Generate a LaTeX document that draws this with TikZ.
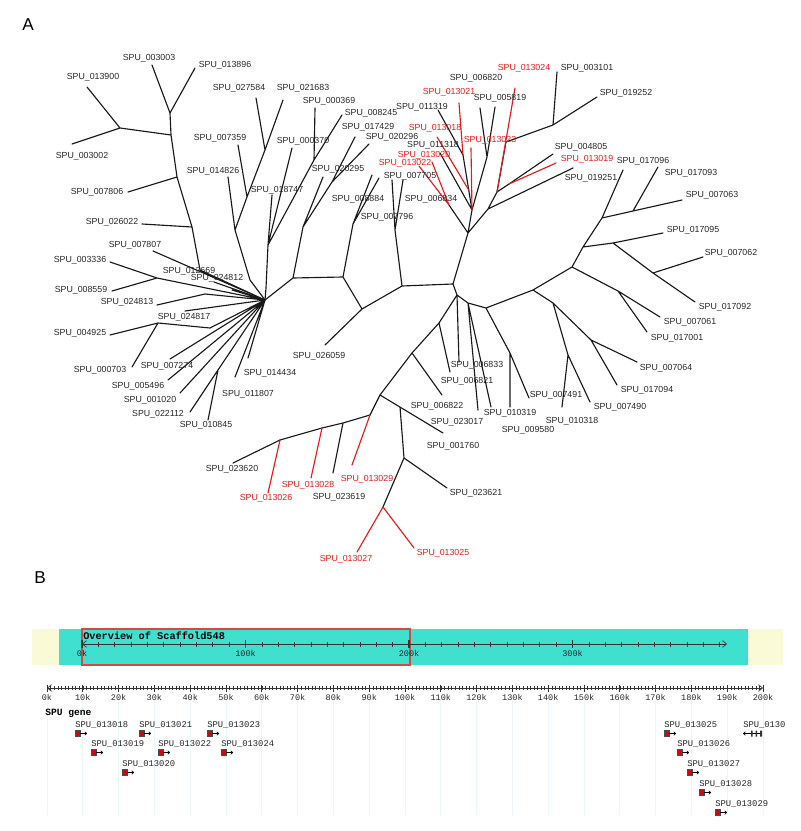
\documentclass[tikz,border=0pt]{standalone}
\usepackage{fontspec}
\setmainfont{Liberation Sans}
\newfontfamily\gbmono{Liberation Mono}
\usetikzlibrary{arrows.meta}

\definecolor{spu_red}{RGB}{232,24,24}
\definecolor{scaf_cyan}{RGB}{64,224,208}
\definecolor{scaf_cream}{RGB}{250,250,214}
\definecolor{view_red}{RGB}{214,72,72}
\definecolor{gene_red}{RGB}{205,10,10}
\definecolor{grid_cyan}{RGB}{232,248,250}

\begin{document}
\begin{tikzpicture}[
    x=0.75pt, y=-0.75pt,
    branch/.style={line width=0.85pt, black!90, line cap=round, line join=round},
    redbranch/.style={branch, draw=spu_red},
    leaf/.style={font=\fontsize{6.6}{7}\selectfont, text=black!85, inner sep=0pt},
    redleaf/.style={leaf, text=spu_red},
    panel/.style={font=\fontsize{12.9}{14}\selectfont, inner sep=0pt},
    ruler/.style={line width=0.5pt, black!80},
    barbs/.style={{Straight Barb[length=3pt,width=5pt]}-{Straight Barb[length=3pt,width=5pt]}},
    ticklabel/.style={font=\gbmono\fontsize{6.4}{7}\selectfont, text=black!85, inner sep=0pt},
    genelabel/.style={font=\gbmono\fontsize{6.6}{7}\selectfont, text=black!85, inner sep=0pt, anchor=west},
    tracktitle/.style={font=\gbmono\bfseries\fontsize{7.2}{8}\selectfont, inner sep=0pt, anchor=west},
    genebox/.style={fill=gene_red, draw=black!70, line width=0.3pt, inner sep=0pt,
                    minimum width=3.6pt, minimum height=4.5pt}
]
\useasboundingbox (0,0) rectangle (800,831);

    % Panel letters
    \node[panel] (pA) at (28,25) {A};
    \node[panel] (pB) at (40,578) {B};

    % Internal nodes of the tree
    \foreach \n/\x/\y in {HL/265/300, HR/453/284,
        na/170/113, nb/171/135, nc/120/128, nd/177/177, ne/192/227, nst/200/270,
        nf/157/278, ng/205/294, nh/158/323, ni/210/328, nj/218/370,
        p0/250/280, p1/235/230, p2/247/197, p3/265/150,
        q0/266/288, q1/268/245, q2/314/160,
        s1/293/278, r1/303/227, r2/332/182, s2/343/277, t1/353/224,
        w1/362/309, v1/402/286, u1/395/230,
        x1/468/233, ya/449/205, x2/472/210, z1/463/155, z3/468.7/190, n65/487/157,
        m1/488/209, m2/497/192, m5/509/184, m3/506/142, m4/553/125,
        k1/457/295, k2/468/303, k3/486/308, k4/533/290, k5/572/267, k6/583/247,
        k7/602/218, k8/633/211, k9/613/243, k10/653/273, k11/618/291,
        k12/553/303, k13/568/355, k14/591/340, k15/510/353,
        l1/439/323, l2/412/353, l3/380/395, l4/400/407, l5/404/458, l6/383/507,
        l7/370/415, l8/343/423, l9/322/428, l10/280/440}
        \coordinate (\n) at (\x,\y);

    % Tips of the tree
    \foreach \n/\x/\y in {003003/152/65, 013896/195/68, 013900/87/87, 003002/72/144,
        007806/128/192, 026022/142/224, 007807/153/251, 003336/110/262, 008559/112/291,
        012669/214/282, 024812/232/290, 024813/157/305, 024817/185/311, 004925/110/335,
        000703/132/367, 007274/170/359, 005496/168/380, 001020/180/393, 022112/190/412,
        010845/208/420, 011807/235/377, 014434/248/358,
        014826/228/177, 007359/238/145, 027584/256/98, 021683/283/100,
        000370/292/148, 018747/272/195, 000369/315/108, 008245/342/115,
        020295/323/177, 017429/355/137, 020296/369/144,
        008884/372/175, 007796/379/178, 007705/403/180, 006834/392/180, 026059/325/345,
        013022/419/166, 013020/432/162, 011319/438/110, 013021/459/103, 013018/437/137,
        011318/440/153, 013023/471/148, 006820/480/108, 005819/495/107,
        013024/515/88, 003101/557/72, 019252/597/97, 004805/553/154, 013019/556/163,
        019251/573/168,
        017096/623/170, 017093/658/167, 007063/682/200, 017095/663/233, 007062/703/257,
        017092/695/302, 007061/660/317, 017001/647/332, 007064/637/362, 017094/617/385,
        007490/590/402, 010318/562/407, 007491/529/398, 009580/510/407, 010319/491/407,
        023017/478/410, 006822/442/395, 006821/450/372, 006833/459/362,
        001760/443/433, 023621/447/488, 013025/414/548, 013027/357/552, 013029/352/465,
        023619/333/473, 013028/311/478, 013026/268/493, 023620/233/463}
        \coordinate (T\n) at (\x,\y);

    % Branches, left part
    \draw[branch] (T003003) -- (na) -- (T013896) (na) -- (nb) -- (nc)
                  (T013900) -- (nc) -- (T003002)
                  (nb) -- (nd) -- (T007806) (nd) -- (ne) -- (T026022)
                  (ne) -- (nst) -- (HL) (T007807) -- (HL);
    \draw[branch] (T003336) -- (nf) -- (T008559) (nf) -- (HL)
                  (T012669) -- (HL) (T024812) -- (HL)
                  (T024813) -- (ng) -- (HL) (T024817) -- (HL)
                  (T004925) -- (nh) -- (T000703) (nh) -- (ni) -- (HL)
                  (T007274) -- (HL) (T005496) -- (HL) (T001020) -- (HL)
                  (T022112) -- (nj) -- (T010845) (nj) -- (HL)
                  (T011807) -- (HL) (T014434) -- (HL);
    \draw[branch] (HL) -- (p0) -- (p1) -- (T014826) (p1) -- (p2) -- (T007359)
                  (p2) -- (p3) -- (T027584) (p3) -- (T021683);
    \draw[branch] (HL) -- (q0) -- (q1) -- (T000370) (q1) -- (T018747)
                  (q1) -- (q2) -- (T000369) (q2) -- (T008245);

    % Branches, backbone
    \draw[branch] (HL) -- (s1) -- (r1) -- (T020295) (r1) -- (r2) -- (T017429)
                  (r2) -- (T020296)
                  (s1) -- (s2) -- (t1) -- (T008884) (t1) -- (T007796)
                  (s2) -- (w1) -- (T026059) (w1) -- (v1) -- (u1) -- (T006834)
                  (u1) -- (T007705) (v1) -- (HR);

    % Branches, upper right
    \draw[branch] (HR) -- (x1) -- (ya) (x1) -- (x2) -- (z1) -- (T011319)
                  (x2) -- (T011318) (x2) -- (n65) -- (T006820) (n65) -- (T005819)
                  (x1) -- (m1) -- (T019251) (m1) -- (m2) -- (m5) -- (T004805)
                  (m2) -- (m3) -- (m4) -- (T003101) (m4) -- (T019252);
    \draw[redbranch] (ya) -- (T013022) (ya) -- (T013020) (z1) -- (T013021)
                     (z3) -- (T013018) (x2) -- (T013023) (m2) -- (T013024)
                     (m5) -- (T013019);

    % Branches, lower right
    \draw[branch] (HR) -- (k1) -- (T006833) (k1) -- (l1) -- (T006821)
                  (l1) -- (l2) -- (T006822) (l2) -- (l3) -- (T001760)
                  (l4) -- (l5) -- (T023621) (l5) -- (l6)
                  (l3) -- (l7) -- (l8) -- (T023619) (l8) -- (l9) -- (l10) -- (T023620)
                  (k1) -- (k2) -- (T023017) (k2) -- (T010319)
                  (k2) -- (k3) -- (k15) -- (T009580) (k15) -- (T007491)
                  (k3) -- (k4) -- (k12) -- (k13) -- (T010318) (k13) -- (T007490)
                  (k12) -- (k14) -- (T017094) (k14) -- (T007064)
                  (k4) -- (k5) -- (k11) -- (T017001) (k11) -- (T007061)
                  (k5) -- (k6) -- (k7) -- (T017096) (k7) -- (k8) -- (T017093)
                  (k8) -- (T007063)
                  (k6) -- (k9) -- (T017095) (k9) -- (k10) -- (T007062) (k10) -- (T017092);
    \draw[redbranch] (l6) -- (T013027) (l6) -- (T013025) (l7) -- (T013029)
                     (l9) -- (T013028) (l10) -- (T013026);

    % Leaf labels
    \foreach \n/\x/\y in {003003/149/58, 013896/225/65, 013900/93/77, 003002/82/156,
        007806/97/192, 026022/112/222, 007807/135/245, 003336/80/260, 012669/189/271,
        024812/217/278, 008559/81/290, 024813/127/302, 024817/184/317, 004925/80/333,
        000703/100/370, 007274/167/366, 005496/138/386, 001020/150/400, 022112/158/414,
        010845/206/425, 011807/248/394, 014434/270/373, 026059/319/356,
        014826/213/171, 007359/220/138, 027584/239/88, 021683/303/88, 000369/329/101,
        008245/371/113, 000370/303/141, 017429/368/127, 020296/392/137, 018747/277/190,
        020295/338/169, 008884/358/199, 007796/387/217, 007705/410/176, 006834/431/199,
        011319/422/107, 011318/433/145, 006820/476/78, 005819/500/98, 003101/587/68,
        019252/626/93, 004805/581/147, 019251/591/178,
        017096/643/161, 017093/691/173, 007063/712/195, 017095/693/230, 007062/731/253,
        017092/725/307, 007061/690/322, 017001/677/338, 007064/666/368, 017094/647/390,
        007490/620/407, 010318/572/421, 007491/556/395, 009580/528/430, 010319/510/413,
        023017/457/422, 006822/437/406, 006821/467/381, 006833/477/365, 001760/453/446,
        023621/476/493, 023619/339/497, 023620/232/469}
        \node[leaf] (L\n) at (\x,\y) {SPU\_\n};
    \foreach \n/\x/\y in {013022/405/163, 013020/424/155, 013018/435/128, 013021/449/92,
        013023/490/140, 013024/524/68, 013019/587/159, 013025/443/553, 013027/346/559,
        013029/367/479, 013028/308/485, 013026/266/498}
        \node[redleaf] (L\n) at (\x,\y) {SPU\_\n};

    % Scaffold overview
    \fill[scaf_cream] (32,629) rectangle (783,665);
    \fill[scaf_cyan] (59,629) rectangle (748,665);
    \draw[view_red, line width=0.8pt] (82,629) rectangle (410,665);
    \node[tracktitle, font=\gbmono\bfseries\fontsize{7.7}{8}\selectfont] (ovtitle) at (83,636)
        {Overview of Scaffold548};
    \coordinate (ovL) at (82,644);
    \coordinate (ovR) at (727,644);
    \draw[ruler, barbs] (ovL) -- (ovR);
    \foreach \i in {1,...,39}
        \draw[ruler] (82+16.35*\i,642) -- (82+16.35*\i,646.5);
    \foreach \i/\t in {0/0k, 1/100k, 2/200k, 3/300k} {
        \draw[ruler, line width=0.8pt] (82+163.5*\i,640) -- (82+163.5*\i,648);
        \node[ticklabel] (ov\i) at (82+163.5*\i,653.5) {\t};
    }

    % Ruler 0k - 200k
    \coordinate (rlL) at (47,688);
    \coordinate (rlR) at (763,688);
    \foreach \i in {0,...,20}
        \draw[grid_cyan, line width=0.7pt] (47+35.8*\i,700) -- (47+35.8*\i,815);
    \draw[ruler, barbs] (rlL) -- (rlR);
    \foreach \i in {1,...,199}
        \draw[ruler, line width=0.3pt] (47+3.58*\i,686.3) -- (47+3.58*\i,689.7);
    \foreach \i in {0,...,20}
        \draw[ruler] (47+35.8*\i,684.5) -- (47+35.8*\i,691.5);
    \node[ticklabel] (rl0) at (47,697.5) {0k};
    \foreach \i in {1,...,20}
        \node[ticklabel] (rl\i) at (47+35.8*\i,697.5) {\i0k};

    % SPU gene track
    \node[tracktitle] (track) at (45,713) {SPU gene};
    \foreach \g/\gx/\gy in {013018/75/725, 013021/139/725, 013023/207/725, 013025/664/725,
        013019/91/744, 013022/158/744, 013024/221/744, 013026/677/744,
        013020/122/764, 013027/687/764, 013028/699/784, 013029/715/804} {
        \node[genelabel] (g\g) at (\gx,\gy) {SPU\_\g};
        \node[genebox] (b\g) at (\gx+2.5,\gy+8.5) {};
        \draw[-{To[length=2pt,width=3pt]}, line width=0.5pt] (b\g.east) -- ++(7,0);
    }
    \begin{scope}
        \clip (700,700) rectangle (784,760);
        \node[genelabel] (g013030) at (743,725) {SPU\_013030};
    \end{scope}
    \coordinate (c013030) at (743,733.5);
    \draw[{To[length=2pt,width=3pt]}-, line width=0.5pt] (c013030) -- ++(19,0);
    \fill[black!80] (751,730.5) rectangle (752.5,736.5)
                    (755.5,730.5) rectangle (757,736.5)
                    (760,730.5) rectangle (762,736.5);

\end{tikzpicture}
\end{document}
